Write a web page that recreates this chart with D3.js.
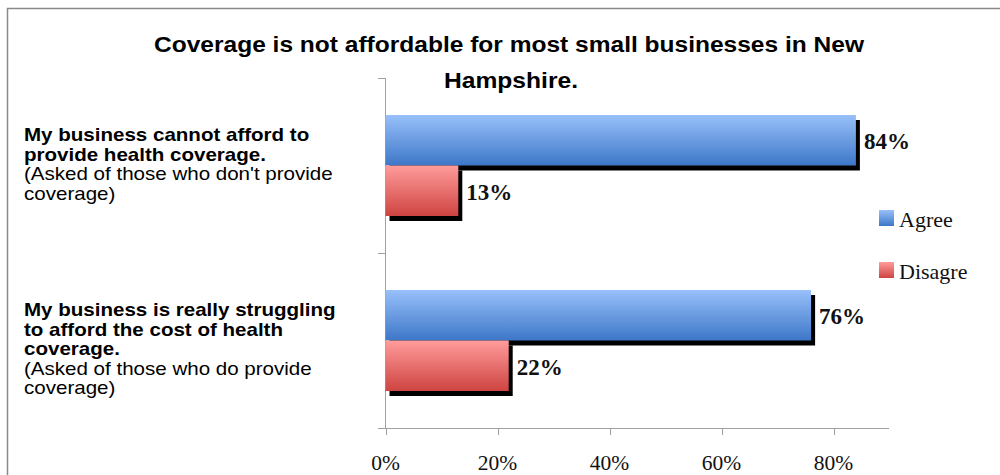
<!DOCTYPE html>
<html>
<head>
<meta charset="utf-8">
<script src="https://cdn.jsdelivr.net/npm/d3@7"></script>
<style>
  html, body { margin: 0; padding: 0; background: #fff; }
  svg { display: block; }
</style>
</head>
<body>
<svg id="chart" width="1000" height="475"></svg>
<script>
const categories = ["cannot", "struggling"];
const seriesNames = ["Agree", "Disagre"];
const agreeValues = [0.84, 0.76];
const disagreeValues = [0.13, 0.22];
const valueLabels = [["84%", "13%"], ["76%", "22%"]];
const tickValues = [0, 0.2, 0.4, 0.6, 0.8];
const tickLabels = ["0%", "20%", "40%", "60%", "80%"];
const categoryLines = [
  [["My business cannot afford to", true], ["provide health coverage.", true], ["(Asked of those who don't provide", false], ["coverage)", false]],
  [["My business is really struggling", true], ["to afford the cost of health", true], ["coverage.", true], ["(Asked of those who do provide", false], ["coverage)", false]]
];
const titleLines = ["Coverage is not affordable for most small businesses in New", "Hampshire."];

const svg = d3.select("#chart");
const defs = svg.append("defs");
function grad(id, top, bottom) {
  const g = defs.append("linearGradient").attr("id", id).attr("x1", 0).attr("y1", 0).attr("x2", 0).attr("y2", 1);
  g.append("stop").attr("offset", "0%").attr("stop-color", top);
  g.append("stop").attr("offset", "100%").attr("stop-color", bottom);
}
grad("gBlue", "#98C0FA", "#3D77C8");
grad("gRed", "#FF9C9B", "#CE4441");
const fills = ["url(#gBlue)", "url(#gRed)"];

// frame
svg.append("rect").attr("x", 7.5).attr("y", 8.5).attr("width", 1000).attr("height", 480)
  .attr("fill", "none").attr("stroke", "#8a8a8a").attr("stroke-width", 1.5);

const x = d3.scaleLinear().domain([0, 0.9]).range([385.5, 889.5]);
const y0 = d3.scaleBand().domain(categories).range([78, 428]);
const y1 = d3.scaleBand().domain(seriesNames).range([0, y0.bandwidth()]).paddingInner(0).paddingOuter(0.733);

const data = categories.map((c, i) => ({ cat: c, vals: [agreeValues[i], disagreeValues[i]], labels: valueLabels[i] }));

// axes lines
const axisColor = "#a0a0a0";
svg.append("line").attr("x1", 385.5).attr("x2", 385.5).attr("y1", 78).attr("y2", 428).attr("stroke", axisColor);
[78, 253, 428].forEach(yy => {
  svg.append("line").attr("x1", 378).attr("x2", 385.5).attr("y1", yy + 0.5).attr("y2", yy + 0.5).attr("stroke", axisColor);
});
svg.append("line").attr("x1", 378).attr("x2", 889).attr("y1", 428.5).attr("y2", 428.5).attr("stroke", axisColor);
tickValues.forEach((t, i) => {
  svg.append("line").attr("x1", Math.round(x(t)) + 0.5).attr("x2", Math.round(x(t)) + 0.5).attr("y1", 428).attr("y2", 435).attr("stroke", axisColor);
  svg.append("text").attr("x", x(t)).attr("y", 470).attr("text-anchor", "middle")
    .attr("font-family", "Liberation Serif, serif").attr("font-size", 21.5).attr("fill", "#111").text(tickLabels[i]);
});

// bars
const groups = svg.selectAll("g.cat").data(data).join("g").attr("class", "cat")
  .attr("transform", d => `translate(0,${y0(d.cat)})`);
seriesNames.forEach((s, si) => {
  groups.append("rect")
    .attr("x", x(0) + 4).attr("y", y1(s) + 5)
    .attr("width", d => x(d.vals[si]) - x(0)).attr("height", y1.bandwidth())
    .attr("fill", "#000");
});
seriesNames.forEach((s, si) => {
  groups.append("rect")
    .attr("x", x(0)).attr("y", y1(s))
    .attr("width", d => x(d.vals[si]) - x(0)).attr("height", y1.bandwidth())
    .attr("fill", fills[si]);
  groups.append("text")
    .attr("x", d => x(d.vals[si]) + 8).attr("y", y1(s) + y1.bandwidth() / 2 + 9)
    .attr("font-family", "Liberation Serif, serif").attr("font-weight", "bold").attr("font-size", 23)
    .attr("fill", "#111").text(d => d.labels[si]);
});

// category labels
const catBaselines = [[141, 160.5, 180, 199.5], [316, 335.5, 355, 374.5, 394]];
categoryLines.forEach((lines, ci) => {
  lines.forEach((ln, li) => {
    const t = svg.append("text").attr("x", 24).attr("y", catBaselines[ci][li])
      .attr("font-family", "Liberation Sans, Arial, sans-serif").attr("font-size", 18.5)
      .attr("font-weight", ln[1] ? "bold" : "normal").attr("fill", "#000").text(ln[0]);
    const w = t.node().getComputedTextLength();
    t.attr("textLength", w * 1.11).attr("lengthAdjust", "spacingAndGlyphs");
  });
});

// title
svg.append("text").attr("x", 509).attr("y", 52).attr("text-anchor", "middle")
  .attr("font-family", "Liberation Sans, Arial, sans-serif").attr("font-weight", "bold").attr("font-size", 22)
  .attr("textLength", 710).attr("lengthAdjust", "spacingAndGlyphs").text(titleLines[0]);
svg.append("text").attr("x", 511).attr("y", 88).attr("text-anchor", "middle")
  .attr("font-family", "Liberation Sans, Arial, sans-serif").attr("font-weight", "bold").attr("font-size", 22)
  .attr("textLength", 134).attr("lengthAdjust", "spacingAndGlyphs").text(titleLines[1]);

// legend
const legendY = [210, 262];
seriesNames.forEach((s, i) => {
  svg.append("rect").attr("x", 879).attr("y", legendY[i]).attr("width", 15).attr("height", 16).attr("fill", fills[i]);
  svg.append("text").attr("x", 899).attr("y", legendY[i] + 17)
    .attr("font-family", "Liberation Serif, serif").attr("font-size", 22).attr("fill", "#111").text(s);
});
</script>
</body>
</html>
